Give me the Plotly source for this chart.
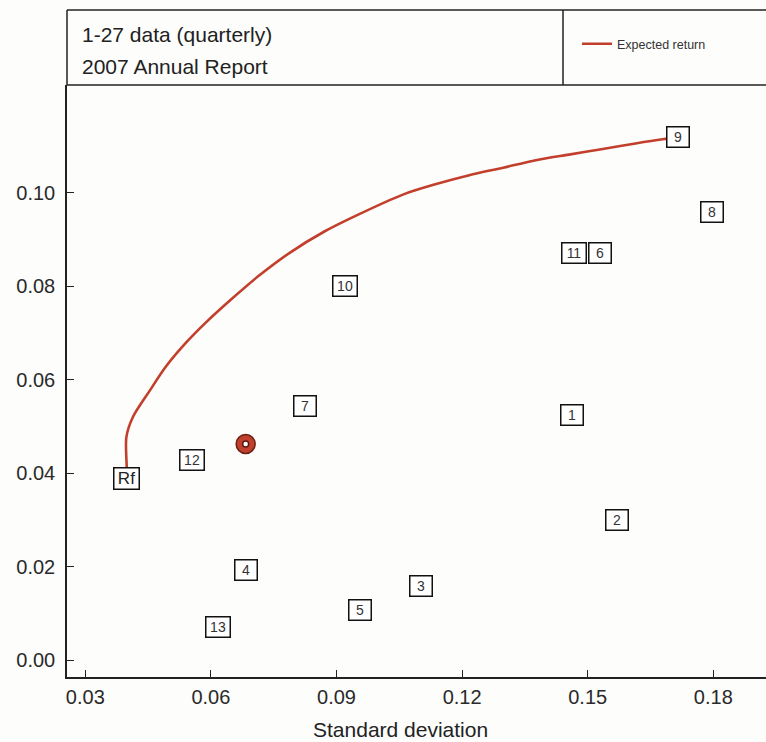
import plotly.graph_objects as go

# ---- data ----
asset_labels = ["1", "2", "3", "4", "5", "6", "7", "8", "9", "10", "11", "12", "13"]
asset_sd = [0.1463, 0.1569, 0.1102, 0.0684, 0.0957, 0.1530, 0.0824, 0.1797, 0.1716,
            0.0920, 0.1467, 0.0554, 0.0616]
asset_ret = [0.0525, 0.0301, 0.0159, 0.0193, 0.0107, 0.0872, 0.0544, 0.0960, 0.1119,
             0.0800, 0.0871, 0.0429, 0.0071]

rf_label = "Rf"
rf_sd = 0.0398
rf_ret = 0.0388

portfolio_sd = [0.0683]
portfolio_ret = [0.0463]

frontier_sd = [0.0398, 0.0399, 0.0398, 0.0414, 0.0454, 0.0493, 0.0540, 0.0587, 0.0648,
               0.0712, 0.0790, 0.0870, 0.0948, 0.1060, 0.1138, 0.1217, 0.1298, 0.1376,
               0.1455, 0.1536, 0.1614, 0.1679, 0.1716]
frontier_ret = [0.0388, 0.0409, 0.0477, 0.0521, 0.0577, 0.0629, 0.0679, 0.0722, 0.0772,
                0.0821, 0.0873, 0.0917, 0.0952, 0.0997, 0.1019, 0.1038, 0.1054, 0.1070,
                0.1082, 0.1094, 0.1106, 0.1115, 0.1119]

x_ticks = [0.03, 0.06, 0.09, 0.12, 0.15, 0.18]
x_ticktext = ["0.03", "0.06", "0.09", "0.12", "0.15", "0.18"]
y_ticks = [0.00, 0.02, 0.04, 0.06, 0.08, 0.10]
y_ticktext = ["0.00", "0.02", "0.04", "0.06", "0.08", "0.10"]

title_line1 = "1-27 data (quarterly)"
title_line2 = "2007 Annual Report"
x_title = "Standard deviation"
series_name = "Expected return"

# ---- styling ----
FONT = "Liberation Sans, Arial, sans-serif"
INK = "#222222"
RED = "#c23f2c"

fig = go.Figure()

fig.add_trace(go.Scatter(
    x=frontier_sd, y=frontier_ret, mode="lines", name=series_name,
    line=dict(color=RED, width=2.6, shape="spline", smoothing=0.8),
    showlegend=True,
))

fig.add_trace(go.Scatter(
    x=portfolio_sd, y=portfolio_ret, mode="markers", showlegend=False,
    marker=dict(size=19, color=RED, line=dict(color="#6b2015", width=1.5)),
))
fig.add_trace(go.Scatter(
    x=portfolio_sd, y=portfolio_ret, mode="markers", showlegend=False,
    marker=dict(size=6, color="white", line=dict(color="#5a1a10", width=1.5)),
))

annotations = []
for lab, sx, ry in zip(asset_labels, asset_sd, asset_ret):
    annotations.append(dict(
        x=sx, y=ry, xref="x", yref="y", text=lab, showarrow=False,
        font=dict(family=FONT, size=14, color="#333333"),
        bgcolor="white", bordercolor="#111111", borderwidth=1.5, borderpad=1,
        width=19 if len(lab) == 1 else 21, height=17,
    ))
annotations.append(dict(
    x=rf_sd, y=rf_ret, xref="x", yref="y", text=rf_label, showarrow=False,
    font=dict(family=FONT, size=17, color="#222222"),
    bgcolor="white", bordercolor="#111111", borderwidth=1.5, borderpad=1,
    width=22, height=18,
))

# header texts
annotations.append(dict(
    x=0.0186, y=1.0845, xref="paper", yref="paper", text=title_line1,
    showarrow=False, xanchor="left", yanchor="middle",
    font=dict(family=FONT, size=21, color=INK),
))
annotations.append(dict(
    x=0.0186, y=1.0305, xref="paper", yref="paper", text=title_line2,
    showarrow=False, xanchor="left", yanchor="middle",
    font=dict(family=FONT, size=21, color=INK),
))
# x-axis title
annotations.append(dict(
    x=0.4764, y=-0.0895, xref="paper", yref="paper", text=x_title,
    showarrow=False, xanchor="center", yanchor="middle",
    font=dict(family=FONT, size=21, color=INK),
))

header_top = 1.1267
divider_x = 0.7096
shapes = [
    dict(type="line", xref="paper", yref="paper", x0=0, x1=1, y0=header_top, y1=header_top,
         line=dict(color=INK, width=1.5)),
    dict(type="line", xref="paper", yref="paper", x0=0, x1=1, y0=1, y1=1,
         line=dict(color=INK, width=1.5)),
    dict(type="line", xref="paper", yref="paper", x0=0, x1=0, y0=1, y1=header_top,
         line=dict(color=INK, width=1.5)),
    dict(type="line", xref="paper", yref="paper", x0=divider_x, x1=divider_x, y0=1, y1=header_top,
         line=dict(color=INK, width=1.5)),
]

fig.update_layout(
    width=766, height=742,
    margin=dict(l=67, r=0, t=85, b=65, autoexpand=False),
    paper_bgcolor="#fdfdfc", plot_bgcolor="#fdfdfc",
    font=dict(family=FONT, color=INK),
    annotations=annotations, shapes=shapes,
    legend=dict(x=0.7296, y=1.069, xanchor="left", yanchor="middle",
                bgcolor="rgba(0,0,0,0)", font=dict(family=FONT, size=12.5, color="#333333")),
    xaxis=dict(range=[0.02563, 0.19258], tickvals=x_ticks, ticktext=x_ticktext,
               showline=True, linecolor=INK, linewidth=1.5, ticks="inside", ticklen=7,
               tickwidth=1.2, tickcolor=INK, showgrid=False, zeroline=False,
               tickfont=dict(family=FONT, size=20, color="#2a2a2a"), ticklabelstandoff=1),
    yaxis=dict(range=[-0.00358, 0.1231], tickvals=y_ticks, ticktext=y_ticktext,
               showline=True, linecolor=INK, linewidth=1.5, ticks="inside", ticklen=7,
               tickwidth=1.2, tickcolor=INK, showgrid=False, zeroline=False,
               tickfont=dict(family=FONT, size=20, color="#2a2a2a"), ticklabelstandoff=6),
)

fig.write_html(
    "out.html",
    config={"displayModeBar": False},
    post_script="document.body.style.margin='0px'; document.body.style.overflow='hidden';",
)
